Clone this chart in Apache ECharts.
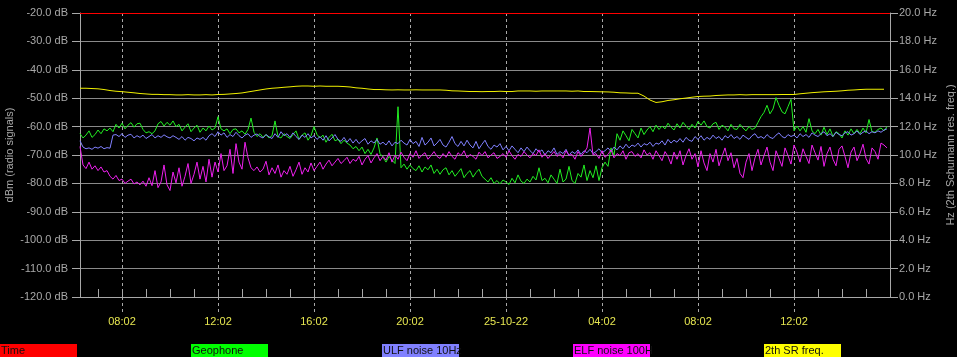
<!DOCTYPE html>
<html>
<head>
<meta charset="utf-8">
<script src="https://cdn.jsdelivr.net/npm/echarts@6/dist/echarts.min.js"></script>
<style>
html,body{margin:0;padding:0;background:#000;}
#c{width:957px;height:357px;}
</style>
</head>
<body>
<div id="c"></div>
<script>
// time in hours after 00:02 of 24-10-22
var startHour = 6.25;
var noiseStepHour = 0.125;
var srStepHour = 0.25;
var xMin = 6.25, xMax = 40;
var xMajorTicks = [8, 12, 16, 20, 24, 28, 32, 36];
var xMajorLabels = ['08:02', '12:02', '16:02', '20:02', '25-10-22', '04:02', '08:02', '12:02'];
var xMinorTicks = [7,8,9,10,11,12,13,14,15,16,17,18,19,20,21,22,23,24,25,26,27,28,29,30,31,32,33,34,35,36,37,38,39];
var timeLineLevel = -20;

var seriesNames = ['Time', 'Geophone', 'ULF noise 10Hz', 'ELF noise 100H', '2th SR freq.'];
var seriesColors = ['#ff0000', '#00ff00', '#8080ff', '#ff00ff', '#ffff00'];

var geophone = [
-62.5,-64,-63,-61.5,-63.8,-62.8,-61.2,-62.5,-60.8,-61.5,
-60.5,-61.8,-59.2,-60.5,-58.8,-60.8,-59.5,-58.6,-60.2,-59,
-58.8,-61,-62.2,-61.8,-62.5,-61.5,-59,-58.2,-59.8,-58.5,
-59.5,-58,-60,-59.2,-61.5,-60.2,-59,-61.8,-60.5,-59.5,
-62,-60.5,-61.5,-59.8,-61.2,-60.5,-56.5,-60.8,-61.5,-60.8,
-62.5,-61,-60.8,-62.2,-61.5,-62.7,-61,-57,-62,-63.5,
-62.5,-63.8,-62.8,-64,-63.2,-58,-63.5,-64,-62.5,-63.5,
-64.2,-62.8,-61.5,-64.5,-63,-62.2,-64.8,-63.2,-60,-62.8,
-64,-63,-65.5,-63.8,-62.7,-65,-64.5,-66,-64.8,-65.8,
-66.5,-67.8,-67,-68.5,-67.2,-69.5,-68,-69.8,-67.5,-64,
-69.5,-70.8,-72.5,-70.5,-71.8,-73,-53,-74.5,-73.2,-75,
-73.5,-74.8,-75.5,-73.8,-76,-74.2,-75.2,-73.5,-76.5,-75,
-76.8,-75.2,-74.5,-77,-75.5,-77.5,-76.2,-74.8,-78,-76.5,
-75.5,-77.8,-76.2,-75,-77.5,-78.5,-79.5,-78,-80,-79,
-80.2,-78.8,-79.5,-80.4,-78.2,-79.8,-77,-79.2,-80,-78.5,
-79.5,-77.5,-78.8,-74.5,-79,-78.2,-79.8,-77,-78.5,-80,
-75,-79.5,-78.5,-74,-79,-80,-76.5,-77.8,-73.5,-79,
-75.5,-78,-73.8,-79,-74.5,-72.5,-74,-67.5,-70,-62.5,
-64.8,-61.5,-63.2,-65,-61,-62.5,-64,-60.5,-62.8,-61.2,
-60,-61.8,-59.5,-61,-59.8,-60.8,-58.8,-60.2,-61.2,-59,
-60.5,-58.5,-59.8,-61,-59.2,-60.5,-58.2,-59.5,-58,-60,
-60.5,-59,-58.5,-61,-59.5,-60.2,-61.5,-59.2,-60.8,-61,
-59.2,-60.5,-61.5,-60,-61,-60.5,-58.5,-56.5,-55,-52.5,
-55.5,-53.8,-49.8,-52.5,-54.8,-55.5,-53,-50.4,-61.5,-59.8,
-61.5,-60,-62,-57.2,-61.5,-62.5,-61,-63,-60.2,-62.8,
-60.8,-63.5,-61.8,-62.5,-64,-61.5,-63,-60.8,-62.5,-61,
-62.5,-60.5,-62.2,-57.5,-61.8,-62,-61,-60.5,-61.5,-60
];
var ulfNoise = [
-65,-67.2,-67.8,-67.5,-68,-67.2,-67.6,-67,-67.8,-67.4,
-67.6,-63,-62.8,-63.5,-62.5,-63.8,-63,-62.7,-64,-63.2,
-63.8,-63,-64.2,-63.5,-62.8,-64,-63.2,-63.8,-62.9,-63.6,
-64,-63.2,-63.8,-64.5,-63.5,-64.8,-63.8,-64.2,-65,-64,
-64.5,-63.8,-64.8,-63.2,-62.5,-63.5,-61.8,-63,-62.2,-63.8,
-62.8,-63.5,-62,-63.2,-64,-63,-62.5,-63.8,-63,-62.6,
-63.5,-64,-62.8,-63.6,-64.2,-62.5,-63.8,-61.8,-63.2,-62.5,
-63.8,-62.2,-63.5,-64.5,-63,-63.8,-62.5,-64,-63.2,-64.5,
-63.5,-64.8,-63.2,-65,-64,-62.8,-64.5,-65.2,-63.8,-65.5,
-64.2,-65.8,-64.5,-66,-65,-64.2,-66.2,-65,-65.8,-64.5,
-66.2,-65.5,-66.5,-65,-66.8,-65.5,-66,-64.8,-65.8,-66.5,
-64.5,-66,-65.2,-67,-63.8,-66.5,-65.5,-64,-66.8,-65.8,
-64.5,-66.5,-67.2,-65.5,-63.5,-66,-67,-65.2,-66.8,-64.8,
-66.5,-67.5,-65.2,-67.8,-66.2,-64.8,-67,-68,-66.5,-67.2,
-66,-68.2,-67,-68.5,-66.8,-68,-69.2,-67.5,-68.8,-67.2,
-68.5,-69.5,-67.8,-69,-68.2,-70,-68.5,-69.2,-67.5,-69.8,
-68.8,-69.5,-68,-70.2,-68.8,-69.5,-68.2,-69.8,-68.5,-69.2,
-68,-69.5,-68.8,-67.8,-69.2,-68.5,-67.5,-68.8,-67.2,-68.2,
-66.8,-67.8,-66.2,-67.5,-66.5,-67,-65.8,-67.2,-66,-66.5,
-65.5,-67,-65.8,-66.2,-65,-66.5,-64.5,-65.8,-64.8,-65.5,
-64.2,-65.5,-63.8,-64.8,-65.2,-63.5,-64.5,-63.2,-64.8,-63.8,
-64.5,-63,-64.2,-63.5,-64.8,-63.2,-64,-62.8,-64.2,-63.5,
-64.5,-63,-63.8,-64.5,-63.2,-62.5,-64,-63.5,-64.2,-62.8,
-63.8,-64.2,-63,-62.2,-63.5,-64,-62.8,-63.5,-63,-64,
-62.5,-63.5,-62.8,-63.8,-62.2,-63,-63.5,-62.5,-61.8,-63.2,
-62.5,-63.5,-62,-62.8,-63.2,-62.2,-61.8,-63,-62.5,-61.5,
-62.8,-62,-61.5,-62.5,-61.8,-62.2,-61.5,-62,-61.2,-60.8
];
var elfNoise = [
-67,-73.5,-74.8,-72.5,-75,-73.8,-75.5,-74.2,-76,-75.5,
-77.5,-78.5,-77.2,-79,-78.5,-80,-79.2,-78.5,-80.2,-79.5,
-80.5,-79.2,-81,-78,-80.8,-75.5,-81.5,-79.5,-73.5,-80.5,
-82.5,-76,-79.8,-74.5,-81,-77.5,-73,-80,-76.8,-72.5,
-78.5,-74,-79.5,-71.5,-77.8,-72.5,-76,-69.5,-75.5,-73.8,
-68,-76.5,-66,-72.5,-75,-65.5,-71,-74.5,-75.5,-74.2,
-76,-75,-72.2,-77,-74.5,-76.5,-73.5,-77.8,-75.5,-76.8,
-74,-77.5,-75.2,-72.5,-76.8,-74.5,-76,-72.8,-75.5,-74,
-72.5,-75,-73.2,-71.8,-73.8,-72.5,-71.2,-73,-72,-70.8,
-73,-71.5,-72.2,-70.5,-73.5,-71.5,-70.2,-72.8,-71,-69.5,
-72,-70.5,-71.8,-69.2,-72.5,-70,-71.5,-69,-70.8,-72,
-69.5,-70.8,-68.5,-71.2,-70,-69.2,-71.5,-70.2,-68.8,-70.5,
-71.2,-69.5,-70.8,-68.8,-70.5,-71.5,-69.2,-70.2,-68.5,-71,
-69.8,-70.5,-71.5,-69,-70.2,-68.8,-71,-70,-69.2,-71.2,
-70.5,-69.5,-70.8,-68.5,-70.2,-71.5,-69.8,-70.5,-68.8,-70,
-71,-69.5,-70.2,-68.2,-70.8,-69.5,-71.2,-70,-68.8,-70.5,
-69.5,-71,-68.5,-70.2,-69.8,-71.5,-68.8,-70.5,-69.2,-67.5,
-60.5,-70,-69.5,-71.2,-68.5,-70.8,-69.8,-68.2,-71,-69.5,
-70.2,-68.5,-71.5,-69.2,-68.8,-70.5,-69.5,-71,-68.2,-70,
-69.2,-71.5,-68.5,-70.2,-72,-68.8,-70.5,-73.2,-69,-71.5,
-68.5,-73.5,-70.2,-67.8,-71.5,-69.5,-74.2,-68.5,-72.8,-75.5,
-69.5,-72.5,-68,-73.8,-70.5,-67.5,-72,-69.2,-74.5,-71.2,
-76.5,-78,-72.5,-69.5,-75.5,-71,-68,-73.5,-70.2,-67.2,
-72.5,-75.5,-68.5,-71.2,-74,-67.5,-70.2,-73.2,-66.5,-69,
-72.5,-67.8,-70.5,-73,-66.5,-69.2,-71.8,-67,-74,-69.5,
-67.2,-71.5,-73.8,-68,-66.8,-70.5,-74.5,-69,-67.2,-72,
-69.5,-66.2,-71.2,-73.2,-67.5,-68.8,-71.5,-65.8,-66.5,-67.5
];
var srFreq = [
14.70,14.70,14.68,14.66,14.61,14.54,14.49,14.46,14.42,14.38,14.33,14.30,14.27,14.27,14.25,14.25,
14.23,14.23,14.25,14.23,14.23,14.25,14.23,14.26,14.27,14.30,14.33,14.37,14.44,14.51,14.58,14.65,
14.70,14.73,14.77,14.80,14.84,14.86,14.86,14.84,14.86,14.84,14.84,14.84,14.82,14.79,14.73,14.70,
14.65,14.61,14.61,14.59,14.58,14.59,14.58,14.58,14.59,14.58,14.58,14.58,14.58,14.56,14.52,14.51,
14.49,14.47,14.47,14.46,14.47,14.47,14.49,14.47,14.47,14.51,14.51,14.51,14.49,14.51,14.51,14.51,
14.51,14.51,14.49,14.51,14.47,14.47,14.46,14.45,14.44,14.42,14.38,14.37,14.35,14.35,14.15,13.87,
13.70,13.75,13.84,13.89,13.96,14.01,14.07,14.12,14.14,14.15,14.19,14.21,14.23,14.23,14.25,14.23,
14.25,14.25,14.25,14.25,14.25,14.26,14.26,14.26,14.31,14.35,14.39,14.42,14.45,14.47,14.49,14.52,
14.56,14.58,14.61,14.63,14.63,14.63,14.63
];

function toPairs(arr, step) {
  return arr.map(function (v, i) { return [startHour + i * step, v]; });
}

var font = '"Liberation Sans", Arial, sans-serif';
var gray = '#a8a8a8';
var gridGray = '#8a8a8a';

var chart = echarts.init(document.getElementById('c'), null, {renderer: 'canvas'});

var legendGraphics = seriesNames.map(function (name, i) {
  return {
    type: 'group',
    left: i * 191,
    top: 344,
    children: [
      {type: 'rect', shape: {x: 0, y: 0, width: 77, height: 13}, style: {fill: seriesColors[i]}},
      {type: 'text', x: 1, y: 1, style: {text: name, fill: '#101010', font: '11px ' + font}}
    ]
  };
});

function lineSeries(name, data, step, color, yIdx, extra) {
  var s = {name: name, type: 'line', xAxisIndex: 0, yAxisIndex: yIdx, data: toPairs(data, step),
    showSymbol: false, lineStyle: {color: color, width: 1}, itemStyle: {color: color}};
  if (extra) for (var k in extra) s[k] = extra[k];
  return s;
}

chart.setOption({
  backgroundColor: '#000',
  animation: false,
  graphic: legendGraphics,
  grid: {left: 80, right: 67, top: 13, bottom: 60, containLabel: false, outerBoundsMode: 'none'},
  xAxis: [
    {
      type: 'value', min: xMin, max: xMax, position: 'bottom',
      axisLine: {show: true, lineStyle: {color: gray, width: 1}},
      axisTick: {show: true, inside: true, length: 8, customValues: xMinorTicks, lineStyle: {color: gray}},
      axisLabel: {show: false},
      splitLine: {show: false}
    },
    {
      type: 'value', min: xMin, max: xMax, position: 'bottom',
      axisLine: {show: false},
      axisTick: {show: true, inside: false, length: 15, customValues: xMajorTicks,
        lineStyle: {color: gray, type: [3, 3]}},
      axisLabel: {show: true, customValues: xMajorTicks, margin: 19, color: '#e6e650',
        fontFamily: font, fontSize: 11,
        formatter: function (v) { var j = xMajorTicks.indexOf(Math.round(v)); return j >= 0 ? xMajorLabels[j] : ''; }},
      splitLine: {show: true, lineStyle: {color: gray, type: [3, 3], width: 1}}
    }
  ],
  yAxis: [
    {
      type: 'value', min: -120, max: -20, interval: 10, position: 'left',
      name: 'dBm (radio signals)', nameLocation: 'middle', nameGap: 65, nameMoveOverlap: false,
      nameTextStyle: {color: gray, fontFamily: font, fontSize: 11},
      axisLine: {show: true, lineStyle: {color: gray}},
      axisTick: {show: true, length: 8, lineStyle: {color: gray}},
      axisLabel: {color: gray, fontFamily: font, fontSize: 11, margin: 12,
        formatter: function (v) { return v.toFixed(1) + ' dB'; }},
      splitLine: {show: true, lineStyle: {color: gridGray, width: 1}}
    },
    {
      type: 'value', min: 0, max: 20, interval: 2, position: 'right',
      name: 'Hz (2th Schumann res. freq.)', nameLocation: 'middle', nameGap: 55, nameMoveOverlap: false,
      nameTextStyle: {color: gray, fontFamily: font, fontSize: 11},
      axisLine: {show: true, lineStyle: {color: gray}},
      axisTick: {show: true, length: 8, lineStyle: {color: gray}},
      axisLabel: {color: gray, fontFamily: font, fontSize: 11, margin: 9,
        formatter: function (v) { return v.toFixed(1) + ' Hz'; }},
      splitLine: {show: false}
    }
  ],
  series: [
    lineSeries('Geophone', geophone, noiseStepHour, '#22ee22', 0, {
      markLine: {silent: true, symbol: 'none', label: {show: false},
        lineStyle: {color: '#ff0000', type: 'solid', width: 1},
        data: [{yAxis: timeLineLevel}]}
    }),
    lineSeries('ULF noise 10Hz', ulfNoise, noiseStepHour, '#8080ff', 0),
    lineSeries('ELF noise 100H', elfNoise, noiseStepHour, '#ee20ee', 0),
    lineSeries('2th SR freq.', srFreq, srStepHour, '#f0f000', 1)
  ]
});
</script>
</body>
</html>
